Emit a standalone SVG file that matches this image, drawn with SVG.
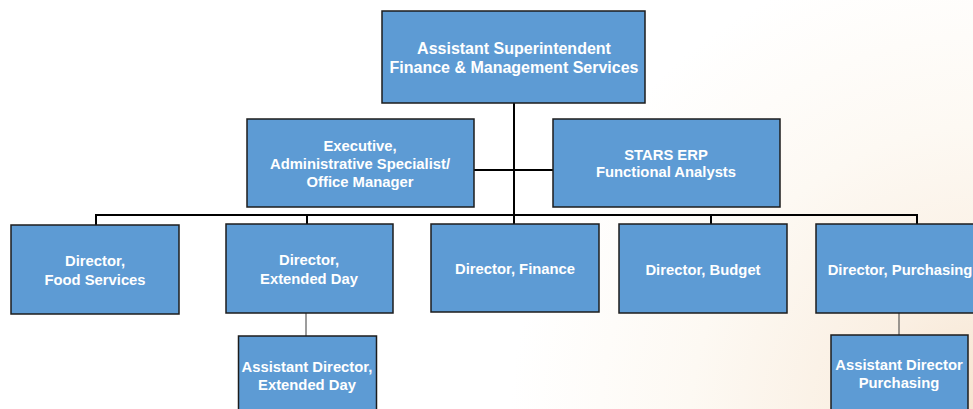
<svg xmlns="http://www.w3.org/2000/svg" width="973" height="409" viewBox="0 0 973 409">
  <defs>
    <radialGradient id="bgWarm" cx="990" cy="425" r="600" gradientUnits="userSpaceOnUse">
      <stop offset="0" stop-color="#f6e1cb"/>
      <stop offset="0.22" stop-color="#faefe2"/>
      <stop offset="0.5" stop-color="#fdf9f3"/>
      <stop offset="0.8" stop-color="#ffffff"/>
      <stop offset="1" stop-color="#ffffff"/>
    </radialGradient>
    <style>
      .box { fill: #5d9bd4; stroke: #1c1c1c; stroke-width: 1.5; }
      .lbl { fill: #ffffff; font-family: "Liberation Sans", Arial, sans-serif; font-weight: bold; font-size: 14.8px; text-anchor: middle; }
      .lbl-top { font-size: 16px; }
      .main { stroke: #000000; stroke-width: 2; fill: none; }
      .sub { stroke: #3a3a3a; stroke-width: 1; fill: none; }
    </style>
  </defs>

  <rect width="973" height="409" fill="url(#bgWarm)"/>

  <!-- reporting lines -->
  <g id="connectors">
    <path class="main" d="M514 103 V215"/>
    <path class="main" d="M474 170 H553"/>
    <path class="main" d="M96 225 V215 H917 V224"/>
    <path class="main" d="M307 215 V224"/>
    <path class="main" d="M514 215 V224"/>
    <path class="main" d="M711 215 V224"/>
    <path class="sub" d="M306 313 V336"/>
    <path class="sub" d="M899 313 V335"/>
  </g>

  <g id="asst-superintendent">
    <rect class="box" x="382" y="11" width="263" height="92"/>
    <text class="lbl lbl-top" x="514" y="54">Assistant Superintendent</text>
    <text class="lbl lbl-top" x="514" y="73">Finance &amp; Management Services</text>
  </g>

  <g id="exec-admin">
    <rect class="box" x="247" y="119" width="227" height="88"/>
    <text class="lbl" x="360" y="151">Executive,</text>
    <text class="lbl" x="360" y="169">Administrative Specialist/</text>
    <text class="lbl" x="360" y="187">Office Manager</text>
  </g>

  <g id="stars-erp">
    <rect class="box" x="553" y="119" width="227" height="88"/>
    <text class="lbl" x="666" y="160">STARS ERP</text>
    <text class="lbl" x="666" y="177">Functional Analysts</text>
  </g>

  <g id="dir-food">
    <rect class="box" x="11" y="225" width="168" height="89"/>
    <text class="lbl" x="95" y="266">Director,</text>
    <text class="lbl" x="95" y="285">Food Services</text>
  </g>

  <g id="dir-extended-day">
    <rect class="box" x="226" y="224" width="167" height="89"/>
    <text class="lbl" x="309" y="265">Director,</text>
    <text class="lbl" x="309" y="284">Extended Day</text>
  </g>

  <g id="dir-finance">
    <rect class="box" x="431" y="224" width="168" height="88"/>
    <text class="lbl" x="515" y="274">Director, Finance</text>
  </g>

  <g id="dir-budget">
    <rect class="box" x="619" y="224" width="168" height="89"/>
    <text class="lbl" x="703" y="275">Director, Budget</text>
  </g>

  <g id="dir-purchasing">
    <rect class="box" x="816" y="224" width="168" height="89"/>
    <text class="lbl" x="900" y="275">Director, Purchasing</text>
  </g>

  <g id="asst-dir-extended-day">
    <rect class="box" x="238.5" y="336" width="138" height="80"/>
    <text class="lbl" x="307" y="372">Assistant Director,</text>
    <text class="lbl" x="307" y="390">Extended Day</text>
  </g>

  <g id="asst-dir-purchasing">
    <rect class="box" x="831" y="335" width="137" height="80"/>
    <text class="lbl" x="899" y="370">Assistant Director</text>
    <text class="lbl" x="899" y="388">Purchasing</text>
  </g>
</svg>
